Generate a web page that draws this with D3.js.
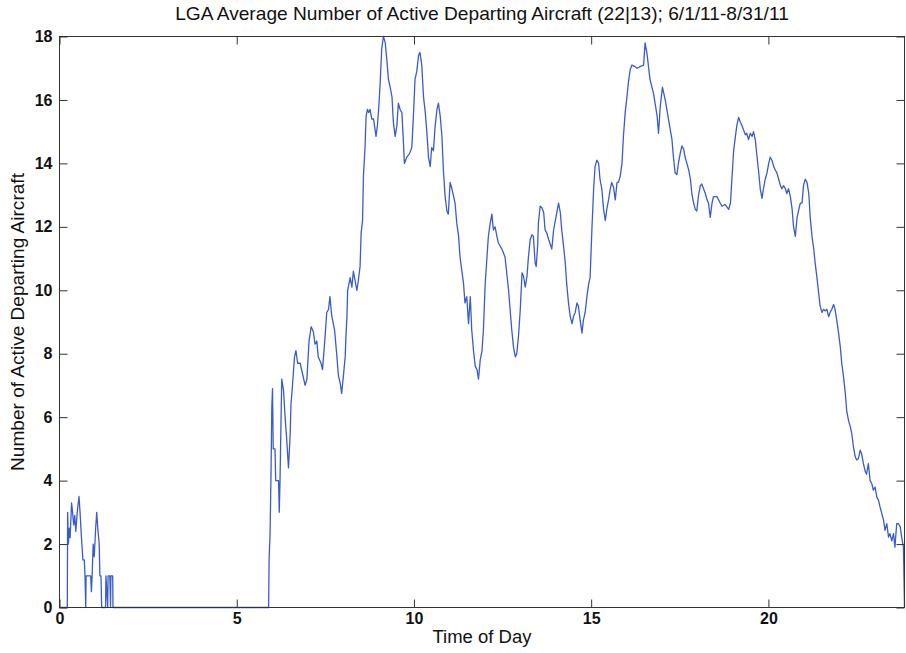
<!DOCTYPE html>
<html>
<head>
<meta charset="utf-8">
<script src="https://cdn.jsdelivr.net/npm/d3@7"></script>
<style>
  html, body { margin: 0; padding: 0; background: #fff; }
  svg { display: block; font-family: "Liberation Sans", Arial, Helvetica, sans-serif; }
</style>
</head>
<body>
<svg id="chart" width="906" height="653"></svg>
<script>
// ---------------- data ----------------
const chartTitle = "LGA Average Number of Active Departing Aircraft (22|13); 6/1/11-8/31/11";
const xLabel = "Time of Day";
const yLabel = "Number of Active Departing Aircraft";
const xTicks = [0, 5, 10, 15, 20];
const yTicks = [0, 2, 4, 6, 8, 10, 12, 14, 16, 18];

const hours = [
  0, 0.22, 0.23, 0.25, 0.28, 0.30, 0.34, 0.37, 0.40, 0.43, 0.46, 0.50, 0.55, 0.58, 0.62, 0.66, 0.70, 0.72, 0.74, 0.75,
  0.88, 0.90, 0.92, 0.95, 0.98, 1.02, 1.05, 1.08, 1.12, 1.14, 1.17, 1.19, 1.30, 1.31, 1.36, 1.37, 1.42, 1.44, 1.45, 1.50, 1.51,
  5.90, 5.913, 5.94, 5.97, 5.99, 6.01, 6.03, 6.08, 6.10, 6.18, 6.20, 6.22, 6.27, 6.32, 6.36, 6.41, 6.46, 6.51, 6.53, 6.57,
  6.63, 6.67, 6.72, 6.79, 6.85, 6.93, 6.98, 7.04, 7.10, 7.16, 7.21, 7.26, 7.30, 7.38, 7.42, 7.47, 7.54, 7.59, 7.63, 7.68,
  7.76, 7.82, 7.87, 7.92, 7.96, 8.01, 8.06, 8.08, 8.11, 8.13, 8.20, 8.25, 8.29, 8.34, 8.39, 8.43, 8.48, 8.51, 8.55,
  8.575, 8.62, 8.65, 8.69, 8.72, 8.76, 8.81, 8.86, 8.93, 8.97, 9.01, 9.05, 9.09, 9.14, 9.19, 9.24, 9.28, 9.33, 9.38, 9.42,
  9.47, 9.52, 9.56, 9.61, 9.66, 9.70, 9.73, 9.80, 9.87, 9.94, 9.99, 10.03, 10.08, 10.13, 10.17, 10.22, 10.27, 10.32, 10.36,
  10.41, 10.46, 10.50, 10.55, 10.60, 10.65, 10.69, 10.74, 10.79, 10.83, 10.88, 10.93, 10.97, 11.02, 11.07, 11.11, 11.16,
  11.21, 11.26, 11.30, 11.40, 11.44, 11.49, 11.54, 11.59, 11.63, 11.68, 11.73, 11.78, 11.82, 11.87, 11.92, 11.96, 12.01,
  12.06, 12.10, 12.15, 12.20, 12.24, 12.29, 12.34, 12.38, 12.48, 12.57, 12.67, 12.72, 12.76, 12.81, 12.86, 12.90, 12.95,
  13.00, 13.05, 13.09, 13.14, 13.19, 13.23, 13.28, 13.33, 13.37, 13.42, 13.45, 13.49, 13.51, 13.56, 13.61, 13.66, 13.70,
  13.75, 13.80, 13.89, 13.94, 13.99, 14.03, 14.08, 14.13, 14.17, 14.22, 14.27, 14.31, 14.36, 14.41, 14.46, 14.50, 14.55,
  14.60, 14.64, 14.69, 14.74, 14.78, 14.83, 14.88, 14.93, 14.97, 15.02, 15.07, 15.11, 15.16, 15.21, 15.25, 15.30, 15.35,
  15.40, 15.44, 15.49, 15.54, 15.58, 15.63, 15.68, 15.73, 15.77, 15.82, 15.87, 15.91, 15.96, 16.01, 16.05, 16.10, 16.15,
  16.24, 16.29, 16.38, 16.48, 16.52, 16.57, 16.66, 16.76, 16.86, 16.90, 16.95, 17.01, 17.09, 17.18, 17.28, 17.32, 17.37,
  17.42, 17.46, 17.51, 17.56, 17.61, 17.65, 17.70, 17.75, 17.80, 17.84, 17.89, 17.94, 17.98, 18.03, 18.08, 18.12, 18.17,
  18.22, 18.27, 18.31, 18.36, 18.41, 18.45, 18.55, 18.64, 18.69, 18.78, 18.88, 18.93, 18.97, 19.02, 19.07, 19.11, 19.16,
  19.21, 19.25, 19.30, 19.35, 19.39, 19.44, 19.49, 19.54, 19.58, 19.63, 19.68, 19.72, 19.77, 19.82, 19.86, 19.91, 19.96,
  20.01, 20.05, 20.10, 20.15, 20.19, 20.24, 20.29, 20.34, 20.38, 20.43, 20.48, 20.52, 20.57, 20.62, 20.67, 20.71, 20.76,
  20.81, 20.85, 20.90, 20.95, 20.99, 21.04, 21.09, 21.14, 21.18, 21.23, 21.28, 21.32, 21.37, 21.42, 21.46, 21.51, 21.56,
  21.60, 21.65, 21.70, 21.74, 21.79, 21.84, 21.88, 21.93, 21.98, 22.03, 22.07, 22.12, 22.17, 22.21, 22.26, 22.31, 22.35,
  22.40, 22.45, 22.49, 22.54, 22.59, 22.63, 22.68, 22.73, 22.77, 22.82, 22.87, 22.92, 22.96, 23.01, 23.06, 23.11, 23.15,
  23.20, 23.25, 23.29, 23.34, 23.39, 23.43, 23.48, 23.53, 23.57, 23.62, 23.67, 23.72, 23.76, 23.81, 23.84
];

const aircraft = [
  0, 0, 3.0, 2.0, 2.5, 2.2, 3.3, 3.0, 2.6, 2.9, 2.4, 3.0, 3.5, 3.0, 2.2, 1.5, 1.5, 1.0, 0, 1.0,
  1.0, 0.5, 1.0, 2.0, 1.6, 2.5, 3.0, 2.5, 2.0, 1.0, 1.0, 0, 0, 1.0, 0, 1.0, 1.0, 0, 1.0, 1.0, 0,
  0, 1.5, 2.3, 4.4, 6.3, 6.9, 5.0, 5.0, 4.0, 4.0, 3.0, 3.9, 7.2, 6.85, 6.1, 5.3, 4.4, 5.5, 6.4, 6.95,
  7.9, 8.1, 7.7, 7.7, 7.4, 7.0, 7.2, 8.4, 8.85, 8.7, 8.3, 8.4, 7.9, 7.7, 7.5, 8.2, 9.3, 9.4, 9.8, 9.2,
  8.75, 8.0, 7.3, 7.07, 6.75, 7.3, 7.9, 8.5, 9.2, 10.0, 10.4, 10.1, 10.6, 10.3, 10.0, 10.3, 10.75, 11.8, 12.2,
  13.6, 14.5, 15.5, 15.7, 15.6, 15.7, 15.4, 15.4, 14.85, 15.2, 15.8, 16.6, 17.6, 18.0, 17.8, 17.2, 16.65, 16.4, 16.1, 15.3,
  14.85, 15.2, 15.9, 15.7, 15.6, 14.75, 14.0, 14.2, 14.3, 14.5, 15.6, 16.65, 16.9, 17.4, 17.5, 17.1, 16.1, 15.6, 15.05,
  14.2, 13.9, 14.5, 14.4, 15.2, 15.7, 15.9, 15.5, 14.85, 13.8, 12.95, 12.5, 12.4, 13.4, 13.2, 13.0, 12.75,
  12.1, 11.7, 11.05, 10.2, 9.6, 9.8, 8.95, 9.8, 8.75, 8.1, 7.6, 7.5, 7.2, 7.8, 8.1, 8.75, 10.2,
  11.05, 11.7, 12.1, 12.4, 11.9, 12.0, 11.7, 11.5, 11.3, 11.05, 10.0, 9.3, 8.75, 8.2, 7.9, 8.0, 8.55,
  9.4, 10.55, 10.45, 10.1, 10.45, 11.05, 11.6, 11.75, 11.7, 10.85, 10.75, 11.4, 12.1, 12.65, 12.6, 12.45, 11.9,
  11.8, 11.6, 11.3, 11.9, 12.2, 12.45, 12.75, 12.45, 11.9, 11.4, 10.85, 10.2, 9.6, 9.17, 8.95, 9.17, 9.3,
  9.6, 9.5, 9.05, 8.65, 9.05, 9.3, 9.8, 10.2, 10.4, 11.9, 13.2, 13.9, 14.1, 14.0, 13.5, 13.2, 12.55,
  12.2, 12.55, 12.85, 13.2, 13.4, 13.25, 12.85, 13.4, 13.4, 13.6, 14.0, 14.85, 15.6, 16.1, 16.55, 16.95, 17.1,
  17.05, 17.0, 17.05, 17.1, 17.8, 17.5, 16.65, 16.2, 15.5, 14.95, 15.8, 16.4, 16.0, 15.4, 14.75, 14.2, 13.7,
  13.65, 14.0, 14.3, 14.55, 14.45, 14.2, 14.0, 13.8, 13.5, 13.05, 12.75, 12.55, 12.5, 13.0, 13.3, 13.35, 13.2,
  13.05, 12.85, 12.75, 12.3, 12.75, 12.95, 12.95, 12.75, 12.65, 12.7, 12.55, 12.75, 13.5, 14.4, 14.85, 15.2, 15.45,
  15.3, 15.2, 15.05, 14.9, 14.95, 14.75, 14.95, 14.85, 15.0, 14.75, 14.2, 13.8, 13.2, 12.9, 13.2, 13.5, 13.7,
  14.0, 14.2, 14.1, 13.9, 13.8, 13.7, 13.5, 13.3, 13.2, 13.3, 13.2, 13.05, 13.2, 12.95, 12.55, 12.0, 11.7,
  12.3, 12.5, 12.75, 12.75, 13.3, 13.5, 13.4, 13.05, 12.3, 11.7, 11.3, 10.85, 10.4, 9.9, 9.5, 9.3, 9.4,
  9.35, 9.4, 9.17, 9.3, 9.4, 9.55, 9.4, 9.05, 8.65, 8.2, 7.7, 7.27, 6.75, 6.2, 5.9, 5.7, 5.5,
  5.06, 4.75, 4.65, 4.7, 4.96, 4.85, 4.54, 4.3, 4.2, 4.54, 4.0, 3.9, 3.7, 3.8, 3.48, 3.37, 3.17,
  2.96, 2.75, 2.43, 2.64, 2.22, 2.33, 2.1, 2.33, 1.9, 2.64, 2.64, 2.54, 2.22, 1.9, 0
];

// ---------------- layout ----------------
const plot = { left: 59.5, right: 904.5, top: 36.5, bottom: 607.5 };
const tickLen = 8;

const svg = d3.select("#chart");

const x = d3.scaleLinear().domain([0, 23.84]).range([plot.left, plot.right]);
const y = d3.scaleLinear().domain([0, 18]).range([plot.bottom, plot.top]);

const data = hours.map((h, i) => [h, aircraft[i]]);

const line = d3.line().x(d => x(d[0])).y(d => y(d[1]));
svg.append("path")
  .datum(data)
  .attr("fill", "none")
  .attr("stroke", "#3a5cc8")
  .attr("stroke-width", 1.3)
  .attr("stroke-linejoin", "round")
  .attr("d", line);

const axisColor = "#333";

svg.append("rect")
  .attr("x", plot.left).attr("y", plot.top)
  .attr("width", plot.right - plot.left).attr("height", plot.bottom - plot.top)
  .attr("fill", "none").attr("stroke", axisColor).attr("stroke-width", 1);

const fontSize = 16;
const xAxis = d3.axisBottom(x).tickValues(xTicks).tickSize(-tickLen).tickPadding(5).tickFormat(d3.format("d"));
const gx = svg.append("g").attr("transform", `translate(0,${plot.bottom})`).call(xAxis);
const xAxisTop = d3.axisTop(x).tickValues(xTicks).tickSize(-tickLen).tickFormat("");
const gxt = svg.append("g").attr("transform", `translate(0,${plot.top})`).call(xAxisTop);

const yAxis = d3.axisLeft(y).tickValues(yTicks).tickSize(-tickLen).tickPadding(7).tickFormat(d3.format("d"));
const gy = svg.append("g").attr("transform", `translate(${plot.left},0)`).call(yAxis);
const yAxisRight = d3.axisRight(y).tickValues(yTicks).tickSize(-tickLen).tickFormat("");
const gyr = svg.append("g").attr("transform", `translate(${plot.right},0)`).call(yAxisRight);

[gx, gxt, gy, gyr].forEach(g => {
  g.select(".domain").remove();
  g.selectAll(".tick line").attr("stroke", axisColor);
  g.selectAll(".tick text")
    .attr("fill", "#111")
    .style("font-size", fontSize + "px")
    .style("font-weight", "bold")
    .style("font-family", "'Liberation Sans', Arial, Helvetica, sans-serif");
});

function fitText(sel, target) {
  const len = sel.node().getComputedTextLength();
  const fs = parseFloat(sel.style("font-size"));
  sel.style("font-size", (fs * target / len).toFixed(2) + "px");
}

const title = svg.append("text")
  .attr("x", (plot.left + plot.right) / 2)
  .attr("y", 20)
  .attr("text-anchor", "middle")
  .attr("fill", "#111")
  .style("font-size", "16px")
  .text(chartTitle);
fitText(title, 614);

const xl = svg.append("text")
  .attr("x", (plot.left + plot.right) / 2)
  .attr("y", 643)
  .attr("text-anchor", "middle")
  .attr("fill", "#111")
  .style("font-size", "16px")
  .text(xLabel);
fitText(xl, 99);

const yl = svg.append("text")
  .attr("transform", `translate(24,${(plot.top + plot.bottom) / 2}) rotate(-90)`)
  .attr("text-anchor", "middle")
  .attr("fill", "#111")
  .style("font-size", "16px")
  .text(yLabel);
fitText(yl, 298);
</script>
</body>
</html>
